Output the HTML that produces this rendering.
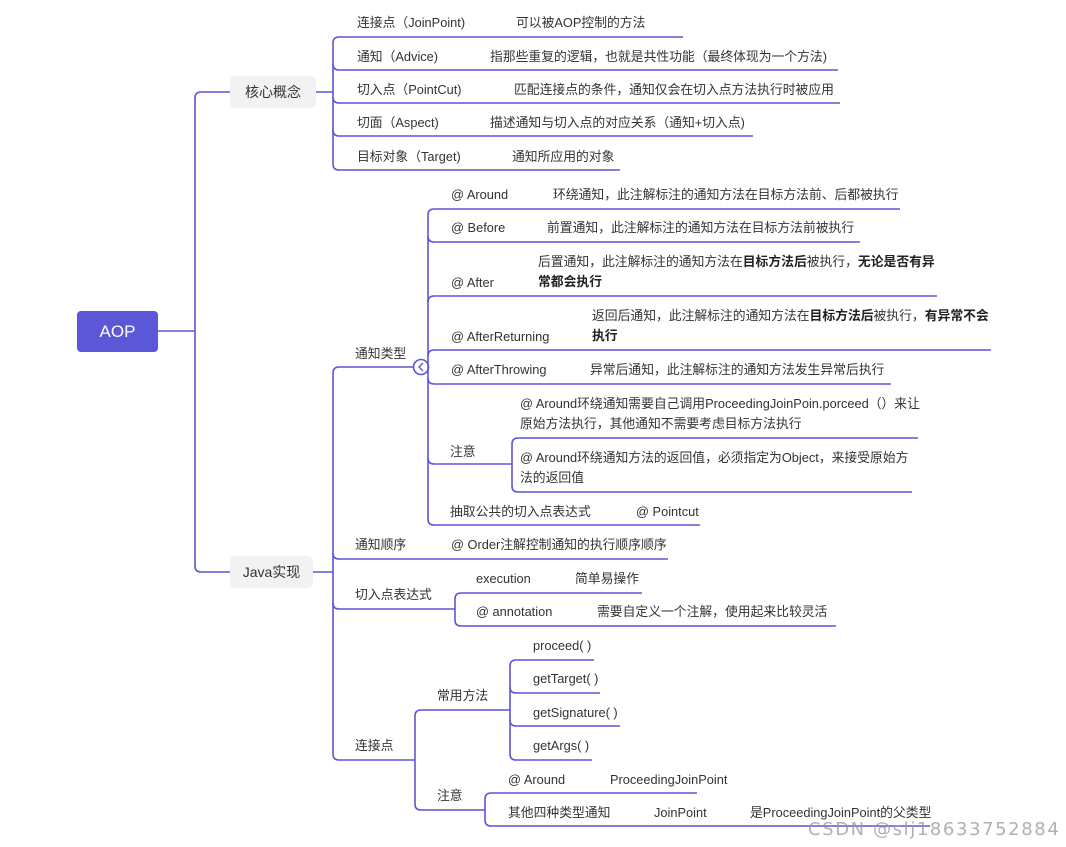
<!DOCTYPE html>
<html><head><meta charset="utf-8"><style>
body{margin:0;width:1066px;height:847px;background:#fff;position:relative;overflow:hidden;font-family:"Liberation Sans","Noto Sans CJK SC",sans-serif;color:#333;}
.t{position:absolute;font-size:12.8px;line-height:16px;white-space:nowrap;}
.b{font-weight:bold;color:#222}
.box{position:absolute;background:#f2f2f2;border-radius:5px;font-size:14px;color:#333;text-align:center;}
</style></head><body>
<svg width="1066" height="847" style="position:absolute;left:0;top:0" fill="none" stroke="#5b57d6" stroke-width="1.6">
<path d="M158,331 H195"/>
<path d="M230,92 H201 Q195,92 195,98 V566 Q195,572 201,572 H230"/>
<path d="M316,92 H333"/>
<path d="M333,43 V164"/>
<path d="M333,43 Q333,37 339,37 H683"/>
<path d="M333,64 Q333,70 339,70 H838"/>
<path d="M333,97 Q333,103 339,103 H840"/>
<path d="M333,130 Q333,136 339,136 H753"/>
<path d="M333,164 Q333,170 339,170 H620"/>
<path d="M313,572 H333"/>
<path d="M333,373 V754"/>
<path d="M333,373 Q333,367 339,367 H413"/>
<path d="M333,553 Q333,559 339,559 H668"/>
<path d="M333,603 Q333,609 339,609 H455"/>
<path d="M333,754 Q333,760 339,760 H415"/>
<circle cx="421" cy="367" r="7.5" fill="#fff"/>
<path d="M423,363 L419,367 L423,371" stroke-width="1.4"/>
<path d="M428,215 V519"/>
<path d="M428,215 Q428,209 434,209 H900"/>
<path d="M428,236 Q428,242 434,242 H860"/>
<path d="M428,302 Q428,296 434,296 H937"/>
<path d="M428,356 Q428,350 434,350 H991"/>
<path d="M428,378 Q428,384 434,384 H891"/>
<path d="M428,458 Q428,464 434,464 H512"/>
<path d="M428,519 Q428,525 434,525 H700"/>
<path d="M512,444 V486"/>
<path d="M512,444 Q512,438 518,438 H918"/>
<path d="M512,486 Q512,492 518,492 H912"/>
<path d="M455,599 V620"/>
<path d="M455,599 Q455,593 461,593 H642"/>
<path d="M455,620 Q455,626 461,626 H836"/>
<path d="M415,716 V804"/>
<path d="M415,716 Q415,710 421,710 H510"/>
<path d="M415,804 Q415,810 421,810 H485"/>
<path d="M510,666 V754"/>
<path d="M510,666 Q510,660 516,660 H594"/>
<path d="M510,687 Q510,693 516,693 H600"/>
<path d="M510,720 Q510,726 516,726 H620"/>
<path d="M510,754 Q510,760 516,760 H592"/>
<path d="M485,799 V820"/>
<path d="M485,799 Q485,793 491,793 H697"/>
<path d="M485,820 Q485,826 491,826 H930"/>
</svg>

<div style="position:absolute;left:77px;top:311px;width:81px;height:41px;background:#5b57d6;border-radius:4px;color:#fff;font-size:17px;line-height:41px;text-align:center">AOP</div>
<div class="box" style="left:230px;top:76px;width:86px;height:32px;line-height:32px">核心概念</div>
<div class="box" style="left:230px;top:556px;width:83px;height:32px;line-height:32px">Java实现</div>

<div class="t" style="left:357px;top:15px">连接点（JoinPoint)</div>
<div class="t" style="left:516px;top:15px">可以被AOP控制的方法</div>
<div class="t" style="left:357px;top:49px">通知（Advice)</div>
<div class="t" style="left:490px;top:49px">指那些重复的逻辑，也就是共性功能（最终体现为一个方法)</div>
<div class="t" style="left:357px;top:82px">切入点（PointCut)</div>
<div class="t" style="left:514px;top:82px">匹配连接点的条件，通知仅会在切入点方法执行时被应用</div>
<div class="t" style="left:357px;top:115px">切面（Aspect)</div>
<div class="t" style="left:490px;top:115px">描述通知与切入点的对应关系（通知+切入点)</div>
<div class="t" style="left:357px;top:149px">目标对象（Target)</div>
<div class="t" style="left:512px;top:149px">通知所应用的对象</div>

<div class="t" style="left:355px;top:346px">通知类型</div>
<div class="t" style="left:451px;top:187px">@ Around</div>
<div class="t" style="left:553px;top:187px">环绕通知，此注解标注的通知方法在目标方法前、后都被执行</div>
<div class="t" style="left:451px;top:220px">@ Before</div>
<div class="t" style="left:547px;top:220px">前置通知，此注解标注的通知方法在目标方法前被执行</div>
<div class="t" style="left:451px;top:275px">@ After</div>
<div class="t" style="left:538px;top:254px">后置通知，此注解标注的通知方法在<span class="b">目标方法后</span>被执行，<span class="b">无论是否有异</span></div>
<div class="t b" style="left:538px;top:274px">常都会执行</div>
<div class="t" style="left:451px;top:329px">@ AfterReturning</div>
<div class="t" style="left:592px;top:308px">返回后通知，此注解标注的通知方法在<span class="b">目标方法后</span>被执行，<span class="b">有异常不会</span></div>
<div class="t b" style="left:592px;top:328px">执行</div>
<div class="t" style="left:451px;top:362px">@ AfterThrowing</div>
<div class="t" style="left:590px;top:362px">异常后通知，此注解标注的通知方法发生异常后执行</div>
<div class="t" style="left:450px;top:444px">注意</div>
<div class="t" style="left:520px;top:396px">@ Around环绕通知需要自己调用ProceedingJoinPoin.porceed（）来让</div>
<div class="t" style="left:520px;top:416px">原始方法执行，其他通知不需要考虑目标方法执行</div>
<div class="t" style="left:520px;top:450px">@ Around环绕通知方法的返回值，必须指定为Object，来接受原始方</div>
<div class="t" style="left:520px;top:470px">法的返回值</div>
<div class="t" style="left:450px;top:504px">抽取公共的切入点表达式</div>
<div class="t" style="left:636px;top:504px">@ Pointcut</div>

<div class="t" style="left:355px;top:537px">通知顺序</div>
<div class="t" style="left:451px;top:537px">@ Order注解控制通知的执行顺序顺序</div>
<div class="t" style="left:355px;top:587px">切入点表达式</div>
<div class="t" style="left:476px;top:571px">execution</div>
<div class="t" style="left:575px;top:571px">简单易操作</div>
<div class="t" style="left:476px;top:604px">@ annotation</div>
<div class="t" style="left:597px;top:604px">需要自定义一个注解，使用起来比较灵活</div>

<div class="t" style="left:355px;top:738px">连接点</div>
<div class="t" style="left:437px;top:688px">常用方法</div>
<div class="t" style="left:533px;top:638px">proceed( )</div>
<div class="t" style="left:533px;top:671px">getTarget( )</div>
<div class="t" style="left:533px;top:705px">getSignature( )</div>
<div class="t" style="left:533px;top:738px">getArgs( )</div>
<div class="t" style="left:437px;top:788px">注意</div>
<div class="t" style="left:508px;top:772px">@ Around</div>
<div class="t" style="left:610px;top:772px">ProceedingJoinPoint</div>
<div class="t" style="left:508px;top:805px">其他四种类型通知</div>
<div class="t" style="left:654px;top:805px">JoinPoint</div>
<div class="t" style="left:750px;top:805px">是ProceedingJoinPoint的父类型</div>

<div style="position:absolute;left:808px;top:819px;font-size:18px;letter-spacing:1.6px;line-height:22px;color:rgba(150,150,150,0.75);white-space:nowrap;font-family:'DejaVu Sans',sans-serif">CSDN @slj18633752884</div>
</body></html>
